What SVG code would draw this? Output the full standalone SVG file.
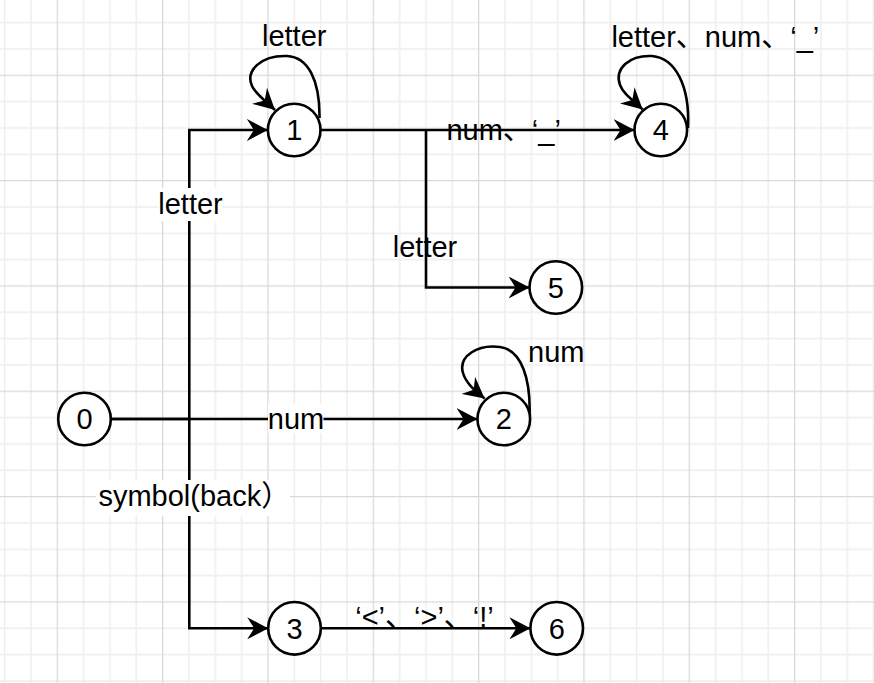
<svg xmlns="http://www.w3.org/2000/svg" width="874" height="683" viewBox="0 0 874 683">
<style>
.t{font-family:'Liberation Sans',Arial,'Noto Sans CJK SC',sans-serif;font-size:29px;fill:#000}
.n{fill:#fff;stroke:#000;stroke-width:2.6}
.e{fill:none;stroke:#000;stroke-width:2.6}
.bg{fill:#fff}
</style>
<defs>
<pattern id="grid" patternUnits="userSpaceOnUse" x="56.68" y="74.68" width="105.33" height="105.33">
<path d="M26.98 0V105.33M53.32 0V105.33M79.65 0V105.33M0 26.98H105.33M0 53.32H105.33M0 79.65H105.33" stroke="#efefef" stroke-width="1.6"/>
<path d="M0.65 0V105.33M0 0.65H105.33" stroke="#d9d9d9" stroke-width="1.3"/>
</pattern>
<marker id="arr" markerUnits="userSpaceOnUse" viewBox="0 0 21 22" refX="21" refY="11" markerWidth="21" markerHeight="22" orient="auto">
<path d="M0,0 L21,11 L0,22 L7,11 Z" fill="#000"/>
</marker>
</defs>
<rect width="874" height="683" fill="#fff"/>
<rect width="874" height="683" fill="url(#grid)"/>
<g id="connectors">
<path class="e" d="M110.8 419H189.3V130H267.9" marker-end="url(#arr)"/>
<path class="e" d="M189.3 419V628.3H268.2" marker-end="url(#arr)"/>
<path class="e" d="M110.8 419H477.5" marker-end="url(#arr)"/>
<path class="e" d="M320.5 130H634.5" marker-end="url(#arr)"/>
<path class="e" d="M426 130V287.5H529.5" marker-end="url(#arr)"/>
<path class="e" d="M320.8 628.3H530.4" marker-end="url(#arr)"/>
<path class="e" d="M319.5 118C320 80 308 57 287 56C262 55 245 70 252 86C255 93 262 98 275 110" marker-end="url(#arr)"/>
<path class="e" d="M688 128C690 85 675 58 652 56C630 55 614 68 620 85C623 93 630 98 642.7 109.5" marker-end="url(#arr)"/>
<path class="e" d="M529.5 417C531 380 522 350 500 347C478 344 458 356 463 373C466 383 474 390 484.6 398.5" marker-end="url(#arr)"/>
<rect class="bg" x="268" y="404" width="55.5" height="29"/>
<rect class="bg" x="158" y="188" width="65" height="33"/>
<rect class="bg" x="96" y="480" width="194" height="36"/>
<text class="t" x="296" y="428.5" text-anchor="middle">num</text>
<text class="t" x="190.5" y="214.3" text-anchor="middle">letter</text>
<text class="t" x="98.4" y="505.5">symbol(back）</text>
<text class="t" x="446.4" y="139.5">num、‘_’</text>
<text class="t" x="425" y="256.7" text-anchor="middle">letter</text>
<text class="t" x="355.2" y="627">‘&lt;’、‘&gt;’、‘!’</text>
<text class="t" x="294.2" y="46.3" text-anchor="middle">letter</text>
<text class="t" x="611.4" y="46.5">letter、num、‘_’</text>
<text class="t" x="528" y="362">num</text>
</g>
<g id="node0"><circle class="n" cx="84.5" cy="419" r="26.3"/><text class="t" x="84.5" y="429.4" text-anchor="middle">0</text></g>
<g id="node1"><circle class="n" cx="294.2" cy="130" r="26.3"/><text class="t" x="294.2" y="140.4" text-anchor="middle">1</text></g>
<g id="node2"><circle class="n" cx="503.8" cy="419" r="26.3"/><text class="t" x="503.8" y="429.4" text-anchor="middle">2</text></g>
<g id="node3"><circle class="n" cx="294.5" cy="628.3" r="26.3"/><text class="t" x="294.5" y="638.7" text-anchor="middle">3</text></g>
<g id="node4"><circle class="n" cx="660.8" cy="130" r="26.3"/><text class="t" x="660.8" y="140.4" text-anchor="middle">4</text></g>
<g id="node5"><circle class="n" cx="555.8" cy="287.5" r="26.3"/><text class="t" x="555.8" y="297.9" text-anchor="middle">5</text></g>
<g id="node6"><circle class="n" cx="556.7" cy="628.3" r="26.3"/><text class="t" x="556.7" y="638.7" text-anchor="middle">6</text></g>
</svg>
